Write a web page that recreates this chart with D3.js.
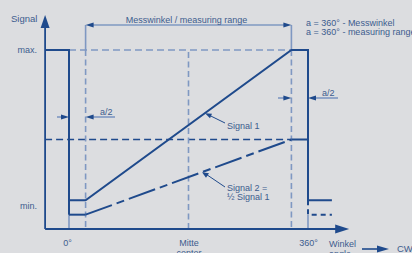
<!DOCTYPE html>
<html><head><meta charset="utf-8">
<script src="https://cdn.jsdelivr.net/npm/d3@7"></script>
<style>
html,body{margin:0;padding:0;background:#dcdde0;}
svg{display:block;font-family:"Liberation Sans",Arial,sans-serif;}
</style></head>
<body>
<script>
// ---- data (angle in degrees, signal in % of max) ----
const signal1Angle = [-36, 0, 0, 25, 335, 360, 360, 396];
const signal1Value = [100, 100, 16, 16, 100, 100, 16, 16];
const signal2Angle = [0, 25, 335, 360];
const signal2Value = [8, 8, 50, 50];
const signal2TailAngle = [360, 360, 396];
const signal2TailValue = [16, 8, 8];
const levelMax = 100, levelHalf = 50, levelMinLabel = 13;
const rangeStart = 25, rangeEnd = 335, centerAngle = 180;
const dimLevel = 114;
const yTickValues = [100, 13];
const yTickLabels = ["max.", "min."];
const xTickValues = [0, 180, 360];
const xTickLabels = [["0°"], ["Mitte", "center"], ["360°"]];

const W = 412, H = 253;
const dark = "#1f4a8c", light = "#7f98c2", txt = "#3d5c8e";
const x = d3.scaleLinear().domain([0, 360]).range([69, 308]);
const y = d3.scaleLinear().domain([0, 100]).range([229, 50]);
const x0 = x(-36), xEnd = x(422);

const svg = d3.select("body").append("svg").attr("width", W).attr("height", H);
const line = d3.line().x(d => x(d[0])).y(d => y(d[1]));
const zip = (a, b) => a.map((v, i) => [v, b[i]]);

function tri(tx, ty, dir, len, hw) {
  // dir: 'l','r','u'
  let p;
  if (dir === 'r') p = [[tx, ty], [tx - len, ty - hw], [tx - len, ty + hw]];
  if (dir === 'l') p = [[tx, ty], [tx + len, ty - hw], [tx + len, ty + hw]];
  if (dir === 'u') p = [[tx, ty], [tx - hw, ty + len], [tx + hw, ty + len]];
  svg.append("path").attr("d", "M" + p.join("L") + "Z").attr("fill", dark);
}
function seg(x1, y1, x2, y2, col, w, dash) {
  const l = svg.append("line").attr("x1", x1).attr("y1", y1).attr("x2", x2).attr("y2", y2)
    .attr("stroke", col).attr("stroke-width", w);
  if (dash) l.attr("stroke-dasharray", dash);
  return l;
}

// reference dashed lines
seg(x(0), y(levelMax), x(rangeEnd), y(levelMax), light, 1.6, "7,4");
seg(x0, y(levelHalf), x(rangeEnd), y(levelHalf), dark, 1.3, "7,4");
seg(x(rangeStart), y(dimLevel), x(rangeStart), y(levelMax), light, 1.6);
seg(x(rangeStart), y(levelMax), x(rangeStart), y(0), light, 1.6, "6,3.5");
seg(x(rangeEnd), y(dimLevel), x(rangeEnd), y(levelMax), light, 1.6);
seg(x(rangeEnd), y(levelMax), x(rangeEnd), y(0), light, 1.6, "6,3.5");
seg(x(centerAngle), y(levelMax) + 2, x(centerAngle), y(0), light, 1.6, "6,3.5");

// light verticals below signals
seg(x(0), y(8), x(0), y(0), light, 1.6);
seg(x(360), y(8), x(360), y(0), light, 1.6);

// axes
seg(x0, y(0), xEnd - 12, y(0), dark, 1.8);
tri(xEnd, y(0), 'r', 14, 4.5);
seg(x0, y(0), x0, 27, dark, 1.8);
tri(x0, 15, 'u', 13, 4.5);

const yAxis = svg.append("g").attr("transform", `translate(${x0},0)`)
  .call(d3.axisLeft(y).tickValues(yTickValues).tickSize(0).tickPadding(8)
    .tickFormat((d, i) => yTickLabels[i]));
yAxis.select(".domain").remove();
yAxis.selectAll("text").attr("fill", txt).style("font-size", "9px")
  .style("font-family", "Liberation Sans, Arial, sans-serif");

const xAxis = svg.append("g").attr("transform", `translate(0,${y(0)})`)
  .call(d3.axisBottom(x).tickValues(xTickValues).tickSize(0).tickPadding(10).tickFormat(""));
xAxis.select(".domain").remove();
xAxis.selectAll(".tick").each(function (d, i) {
  const t = d3.select(this).append("text").attr("fill", txt).attr("text-anchor", "middle")
    .style("font-size", "9px").attr("y", 17);
  xTickLabels[i].forEach((s, k) => t.append("tspan").attr("x", i === 0 ? -2 : 0).attr("dy", k ? 10 : 0).text(s));
});

svg.append("text").attr("x", 11).attr("y", 22).attr("fill", txt).style("font-size", "9.5px").text("Signal");
const wl = svg.append("text").attr("x", 329).attr("y", 247).attr("fill", txt).style("font-size", "9px");
wl.append("tspan").attr("x", 329).text("Winkel");
wl.append("tspan").attr("x", 329).attr("dy", 10).text("angle");
seg(362, 249, 378, 249, dark, 1.6);
tri(389, 249, 'r', 12, 3.5);
svg.append("text").attr("x", 397).attr("y", 252).attr("fill", txt).style("font-size", "9.5px").text("CW");

// signal 1
svg.append("path").attr("d", line(zip(signal1Angle, signal1Value)))
  .attr("fill", "none").attr("stroke", dark).attr("stroke-width", 2);
// vertical of 0° down to signal 2 min
seg(x(0), y(16), x(0), y(8), dark, 2);
// signal 2
const s2 = zip(signal2Angle, signal2Value);
svg.append("path").attr("d", line(s2.slice(0, 2))).attr("fill", "none").attr("stroke", dark).attr("stroke-width", 2);
svg.append("path").attr("d", line(s2.slice(1, 3))).attr("fill", "none").attr("stroke", dark).attr("stroke-width", 2)
  .attr("stroke-dasharray", "28,5,8,5");
svg.append("path").attr("d", line(s2.slice(2, 4))).attr("fill", "none").attr("stroke", dark).attr("stroke-width", 2);
svg.append("path").attr("d", line(zip(signal2TailAngle, signal2TailValue))).attr("fill", "none")
  .attr("stroke", dark).attr("stroke-width", 2).attr("stroke-dasharray", "5,4");

// dimension line: measuring range
seg(x(rangeStart) + 6, y(dimLevel), x(rangeEnd) - 6, y(dimLevel), light, 1.6);
tri(x(rangeStart), y(dimLevel), 'l', 8, 2.5);
tri(x(rangeEnd), y(dimLevel), 'r', 8, 2.5);
svg.append("text").attr("x", (x(rangeStart) + x(rangeEnd)) / 2 - 2).attr("y", y(dimLevel) - 2)
  .attr("text-anchor", "middle").attr("fill", txt).style("font-size", "9px").text("Messwinkel / measuring range");
const at = svg.append("text").attr("fill", txt).style("font-size", "9px");
at.append("tspan").attr("x", 306).attr("y", 26).text("a = 360° -  Messwinkel");
at.append("tspan").attr("x", 306).attr("y", 35).text("a = 360° -  measuring range");

// a/2 annotations
const yA = 117, yB = 98;
seg(57, yA, x(0) - 6, yA, light, 1.6);
tri(x(0), yA, 'r', 8, 2.5);
seg(x(rangeStart) + 6, yA, 115, yA, light, 1.6);
tri(x(rangeStart), yA, 'l', 8, 2.5);
svg.append("text").attr("x", 100).attr("y", 115).attr("fill", txt).style("font-size", "9px").text("a/2");
seg(278, yB, x(rangeEnd) - 6, yB, light, 1.6);
tri(x(rangeEnd), yB, 'r', 8, 2.5);
seg(x(360) + 6, yB, 338, yB, light, 1.6);
tri(x(360), yB, 'l', 8, 2.5);
svg.append("text").attr("x", 322).attr("y", 96).attr("fill", txt).style("font-size", "9px").text("a/2");

// leaders
const s1x = 205, s1y = y(16 + (100 - 16) * (x.invert(s1x) - 25) / 310);
seg(s1x + 4, s1y + 2, 225, 123, dark, 1);
tri(s1x, s1y, 'l', 0, 0);
svg.append("path").attr("d", `M${s1x},${s1y}L${s1x + 7},${s1y + 0.5}L${s1x + 5},${s1y + 5}Z`).attr("fill", dark);
svg.append("text").attr("x", 227).attr("y", 129).attr("fill", txt).style("font-size", "9px").text("Signal 1");

const s2x = 202, s2y = y(8 + (50 - 8) * (x.invert(s2x) - 25) / 310);
seg(s2x + 4, s2y + 2, 225, 187, dark, 1);
svg.append("path").attr("d", `M${s2x},${s2y}L${s2x + 7},${s2y + 1}L${s2x + 4},${s2y + 5.5}Z`).attr("fill", dark);
const t2 = svg.append("text").attr("fill", txt).style("font-size", "9px");
t2.append("tspan").attr("x", 227).attr("y", 191).text("Signal 2 =");
t2.append("tspan").attr("x", 227).attr("y", 200).text("½ Signal 1");
</script>
</body></html>
